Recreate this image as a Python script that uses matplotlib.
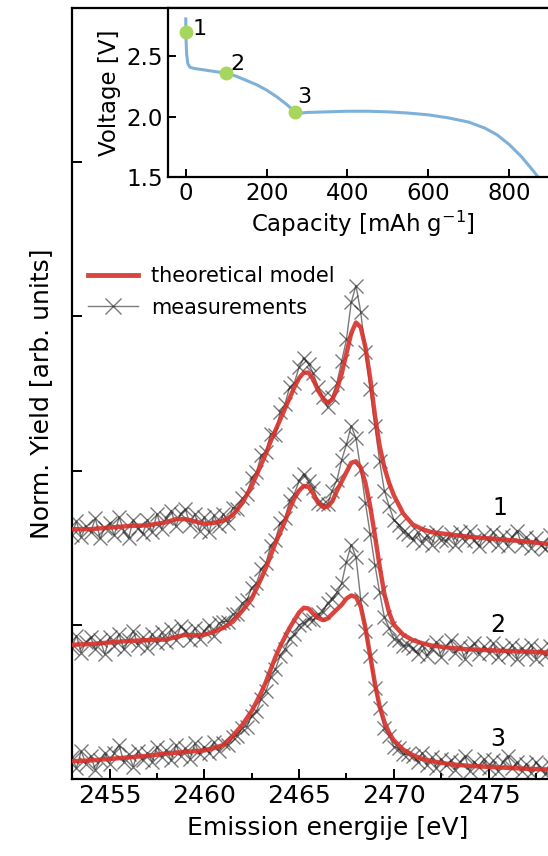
import matplotlib
matplotlib.use("Agg")
import matplotlib.pyplot as plt
from matplotlib.ticker import MultipleLocator
from matplotlib.lines import Line2D

# ---------------- discharge curve (inset) ----------------
capacity = [0, 0, 2, 5, 10, 20, 40, 60, 80, 100, 125, 150, 175, 200, 225, 250,
            270, 285, 300, 350, 400, 450, 500, 550, 600, 650, 700, 740, 770,
            800, 830, 860, 890, 920]
voltage = [2.81, 2.70, 2.52, 2.44, 2.41, 2.40, 2.39, 2.38, 2.37, 2.36, 2.335,
           2.30, 2.265, 2.22, 2.165, 2.10, 2.04, 2.03, 2.035, 2.04, 2.045,
           2.045, 2.04, 2.03, 2.015, 1.99, 1.955, 1.905, 1.85, 1.77, 1.67,
           1.55, 1.42, 1.30]
state_labels = ["1", "2", "3"]
state_capacity = [0, 100, 270]
state_voltage = [2.70, 2.36, 2.04]

# ---------------- theoretical model spectra ----------------
model_energy = [2453, 2454, 2455, 2456, 2457, 2458, 2458.5, 2459, 2459.5, 2460,
                2460.5, 2461, 2461.5, 2462, 2462.5, 2463, 2463.25, 2463.5,
                2463.75, 2464, 2464.25, 2464.5, 2464.75, 2465, 2465.25, 2465.5,
                2465.75, 2466, 2466.25, 2466.5, 2466.75, 2467, 2467.25, 2467.5,
                2467.75, 2468, 2468.25, 2468.5, 2468.75, 2469, 2469.25, 2469.5,
                2469.75, 2470, 2470.5, 2471, 2471.5, 2472, 2473, 2474, 2475,
                2476, 2477, 2478, 2479, 2480]
model_1 = [1.62, 1.62, 1.63, 1.64, 1.645, 1.665, 1.685, 1.685, 1.67, 1.655,
           1.66, 1.675, 1.71, 1.79, 1.90, 2.04, 2.11, 2.19, 2.26, 2.33, 2.40,
           2.47, 2.54, 2.60, 2.635, 2.635, 2.59, 2.52, 2.47, 2.44, 2.46, 2.53,
           2.63, 2.76, 2.89, 2.96, 2.93, 2.80, 2.60, 2.36, 2.16, 2.02, 1.92,
           1.84, 1.72, 1.65, 1.62, 1.60, 1.585, 1.57, 1.56, 1.55, 1.54, 1.525,
           1.515, 1.51]
model_2 = [0.87, 0.875, 0.885, 0.895, 0.90, 0.905, 0.92, 0.935, 0.93, 0.935,
           0.955, 0.98, 1.02, 1.09, 1.17, 1.30, 1.37, 1.45, 1.53, 1.60, 1.67,
           1.75, 1.82, 1.87, 1.90, 1.895, 1.85, 1.79, 1.765, 1.765, 1.80, 1.87,
           1.93, 1.99, 2.05, 2.06, 2.02, 1.92, 1.77, 1.58, 1.38, 1.20, 1.08,
           1.00, 0.935, 0.90, 0.88, 0.865, 0.85, 0.84, 0.835, 0.83, 0.825,
           0.82, 0.815, 0.81]
model_3 = [0.115, 0.12, 0.13, 0.14, 0.15, 0.165, 0.17, 0.175, 0.18, 0.185,
           0.20, 0.22, 0.28, 0.35, 0.44, 0.56, 0.63, 0.71, 0.79, 0.86, 0.92,
           0.98, 1.03, 1.08, 1.11, 1.105, 1.07, 1.045, 1.03, 1.04, 1.07, 1.10,
           1.13, 1.17, 1.19, 1.18, 1.12, 0.98, 0.80, 0.62, 0.47, 0.37, 0.30,
           0.25, 0.19, 0.155, 0.13, 0.115, 0.095, 0.085, 0.078, 0.072, 0.066,
           0.062, 0.058, 0.055]

# ---------------- measured spectra ----------------
meas_energy = [
    2453.00, 2453.25, 2453.50, 2453.75, 2454.00, 2454.25, 2454.50, 2454.75,
    2455.00, 2455.25, 2455.50, 2455.75, 2456.00, 2456.25, 2456.50, 2456.75,
    2457.00, 2457.25, 2457.50, 2457.75, 2458.00, 2458.25, 2458.50, 2458.75,
    2459.00, 2459.25, 2459.50, 2459.75, 2460.00, 2460.25, 2460.50, 2460.75,
    2461.00, 2461.25, 2461.50, 2461.75, 2462.00, 2462.25, 2462.50, 2462.75,
    2463.00, 2463.25, 2463.50, 2463.75, 2464.00, 2464.25, 2464.50, 2464.75,
    2465.00, 2465.25, 2465.50, 2465.75, 2466.00, 2466.25, 2466.50, 2466.75,
    2467.00, 2467.25, 2467.50, 2467.75, 2468.00, 2468.25, 2468.50, 2468.75,
    2469.00, 2469.25, 2469.50, 2469.75, 2470.00, 2470.25, 2470.50, 2470.75,
    2471.00, 2471.25, 2471.50, 2471.75, 2472.00, 2472.25, 2472.50, 2472.75,
    2473.00, 2473.25, 2473.50, 2473.75, 2474.00, 2474.25, 2474.50, 2474.75,
    2475.00, 2475.25, 2475.50, 2475.75, 2476.00, 2476.25, 2476.50, 2476.75,
    2477.00, 2477.25, 2477.50, 2477.75, 2478.00, 2478.25, 2478.50, 2478.75,
    2479.00, 2479.25, 2479.50, 2479.75]
meas_1 = [
    1.58, 1.67, 1.57, 1.64, 1.60, 1.69, 1.56, 1.63,
    1.66, 1.58, 1.70, 1.61, 1.56, 1.68, 1.63, 1.59,
    1.68, 1.60, 1.72, 1.62, 1.69, 1.74, 1.64, 1.72,
    1.75, 1.65, 1.72, 1.61, 1.70, 1.60, 1.71, 1.64,
    1.72, 1.66, 1.76, 1.75, 1.82, 1.85, 1.95, 1.99,
    2.10, 2.12, 2.24, 2.23, 2.38, 2.43, 2.54, 2.57,
    2.67, 2.73, 2.69, 2.63, 2.54, 2.48, 2.41, 2.48,
    2.57, 2.71, 2.85, 3.09, 3.20, 3.03, 2.77, 2.53,
    2.29, 2.06, 1.87, 1.77, 1.68, 1.65, 1.60, 1.59,
    1.55, 1.60, 1.53, 1.58, 1.52, 1.60, 1.55, 1.54,
    1.59, 1.52, 1.60, 1.54, 1.61, 1.55, 1.51, 1.58,
    1.54, 1.60, 1.52, 1.58, 1.51, 1.57, 1.61, 1.52,
    1.57, 1.50, 1.56, 1.52, 1.49, 1.58, 1.51, 1.55,
    1.49, 1.55, 1.48, 1.54]
meas_2 = [
    0.85, 0.93, 0.82, 0.89, 0.92, 0.84, 0.90, 0.81,
    0.92, 0.86, 0.94, 0.84, 0.90, 0.96, 0.87, 0.92,
    0.85, 0.94, 0.88, 0.95, 0.89, 0.97, 0.90, 0.99,
    0.96, 0.90, 0.98, 0.91, 0.96, 1.00, 0.93, 1.01,
    1.02, 1.02, 1.07, 1.07, 1.14, 1.16, 1.24, 1.27,
    1.36, 1.40, 1.51, 1.55, 1.66, 1.69, 1.80, 1.85,
    1.93, 1.98, 1.93, 1.89, 1.79, 1.78, 1.78, 1.87,
    1.94, 2.07, 2.17, 2.29, 2.21, 2.01, 1.79, 1.59,
    1.39, 1.21, 1.05, 0.98, 0.91, 0.90, 0.86, 0.87,
    0.85, 0.81, 0.87, 0.80, 0.84, 0.89, 0.79, 0.86,
    0.90, 0.82, 0.86, 0.78, 0.85, 0.88, 0.81, 0.86,
    0.82, 0.88, 0.79, 0.85, 0.81, 0.87, 0.78, 0.85,
    0.81, 0.87, 0.78, 0.84, 0.80, 0.86, 0.77, 0.84,
    0.79, 0.83, 0.76, 0.83]
meas_3 = [
    0.14, 0.07, 0.18, 0.10, 0.15, 0.06, 0.12, 0.17,
    0.10, 0.17, 0.22, 0.11, 0.16, 0.08, 0.18, 0.12,
    0.17, 0.11, 0.21, 0.14, 0.19, 0.12, 0.22, 0.15,
    0.20, 0.13, 0.23, 0.16, 0.21, 0.17, 0.24, 0.18,
    0.23, 0.22, 0.27, 0.28, 0.33, 0.34, 0.41, 0.44,
    0.52, 0.57, 0.66, 0.71, 0.80, 0.84, 0.91, 0.94,
    1.00, 1.01, 1.04, 1.03, 1.07, 1.08, 1.14, 1.17,
    1.21, 1.27, 1.41, 1.52, 1.44, 1.17, 0.96, 0.80,
    0.59, 0.46, 0.33, 0.28, 0.21, 0.20, 0.16, 0.16,
    0.15, 0.11, 0.17, 0.09, 0.14, 0.07, 0.13, 0.09,
    0.12, 0.06, 0.11, 0.15, 0.05, 0.11, 0.08, 0.13,
    0.07, 0.12, 0.05, 0.11, 0.15, 0.07, 0.11, 0.05,
    0.10, 0.04, 0.11, 0.07, 0.03, 0.10, 0.06, 0.11,
    0.05, 0.09, 0.03, 0.07]

spectrum_labels = ["1", "2", "3"]
spectrum_label_pos = [(2475.6, 1.76), (2475.5, 1.00), (2475.5, 0.26)]
energy_ticks = [2455, 2460, 2465, 2470, 2475]

RED = "#d8312b"
GREY = "#222222"
BLUE = "#7fb1d8"
GREEN = "#a6d65e"

fig = plt.figure(figsize=(5.48, 8.56), dpi=100)

# ---------------- main panel ----------------
ax = fig.add_axes([0.1308, 0.0900, 0.9337, 0.9007])
for y in [meas_1, meas_2, meas_3]:
    ax.plot(meas_energy, y, color=GREY, lw=1.0, alpha=0.6, marker="x",
            ms=10.5, mew=1.0, zorder=2)
for y in [model_1, model_2, model_3]:
    ax.plot(model_energy, y, color=RED, lw=3.2, alpha=0.9, zorder=3,
            solid_capstyle="round")

for lab, (xe, ye) in zip(spectrum_labels, spectrum_label_pos):
    ax.text(xe, ye, lab, ha="center", va="center", fontsize=17)

ax.set_xlim(2453, 2480)
ax.set_ylim(0, 5)
ax.set_xticks(energy_ticks)
ax.xaxis.set_minor_locator(MultipleLocator(2.5))
ax.set_yticks([1, 2, 3, 4])
ax.set_yticklabels([])
ax.tick_params(which="both", direction="in", width=1.4, labelsize=18)
ax.tick_params(which="major", length=7)
ax.tick_params(which="minor", length=4)
for s in ax.spines.values():
    s.set_linewidth(1.6)
ax.set_xlabel("Emission energije [eV]", fontsize=18, labelpad=6)
ax.set_ylabel("Norm. Yield [arb. units]", fontsize=18, labelpad=10)

handles = [
    Line2D([], [], color=RED, lw=3.5, alpha=0.9),
    Line2D([], [], color=GREY, lw=1.0, alpha=0.6, marker="x", ms=12, mew=1.0),
]
ax.legend(handles, ["theoretical model", "measurements"], loc="upper left",
          bbox_to_anchor=(0.016, 0.676), frameon=False, fontsize=15,
          handlelength=2.4, handletextpad=0.6, labelspacing=0.55,
          borderaxespad=0.0, borderpad=0.4)

# ---------------- inset: discharge profile ----------------
ins = fig.add_axes([0.3066, 0.7932, 0.711, 0.1974])
ins.plot(capacity, voltage, color=BLUE, lw=2.2, zorder=2)
ins.plot(state_capacity, state_voltage, "o", color=GREEN, ms=9, zorder=3)
offsets = [(10, 2), (8, 7), (7, 11)]
for lab, xc, yv, off in zip(state_labels, state_capacity, state_voltage, offsets):
    ins.annotate(lab, (xc, yv), xytext=off, textcoords="offset points",
                 fontsize=16, ha="center", va="center")
ins.set_xlim(-44, 920)
ins.set_ylim(1.5, 2.9)
ins.set_xticks([0, 200, 400, 600, 800])
ins.set_yticks([1.5, 2.0, 2.5])
ins.tick_params(direction="in", length=6, width=1.4, labelsize=16.5)
for s in ins.spines.values():
    s.set_linewidth(1.6)
ins.set_xlabel("Capacity [mAh g$^{-1}$]", fontsize=16.5, labelpad=3)
ins.set_ylabel("Voltage [V]", fontsize=16.5, labelpad=4)

fig.savefig("out.png", dpi=100)
